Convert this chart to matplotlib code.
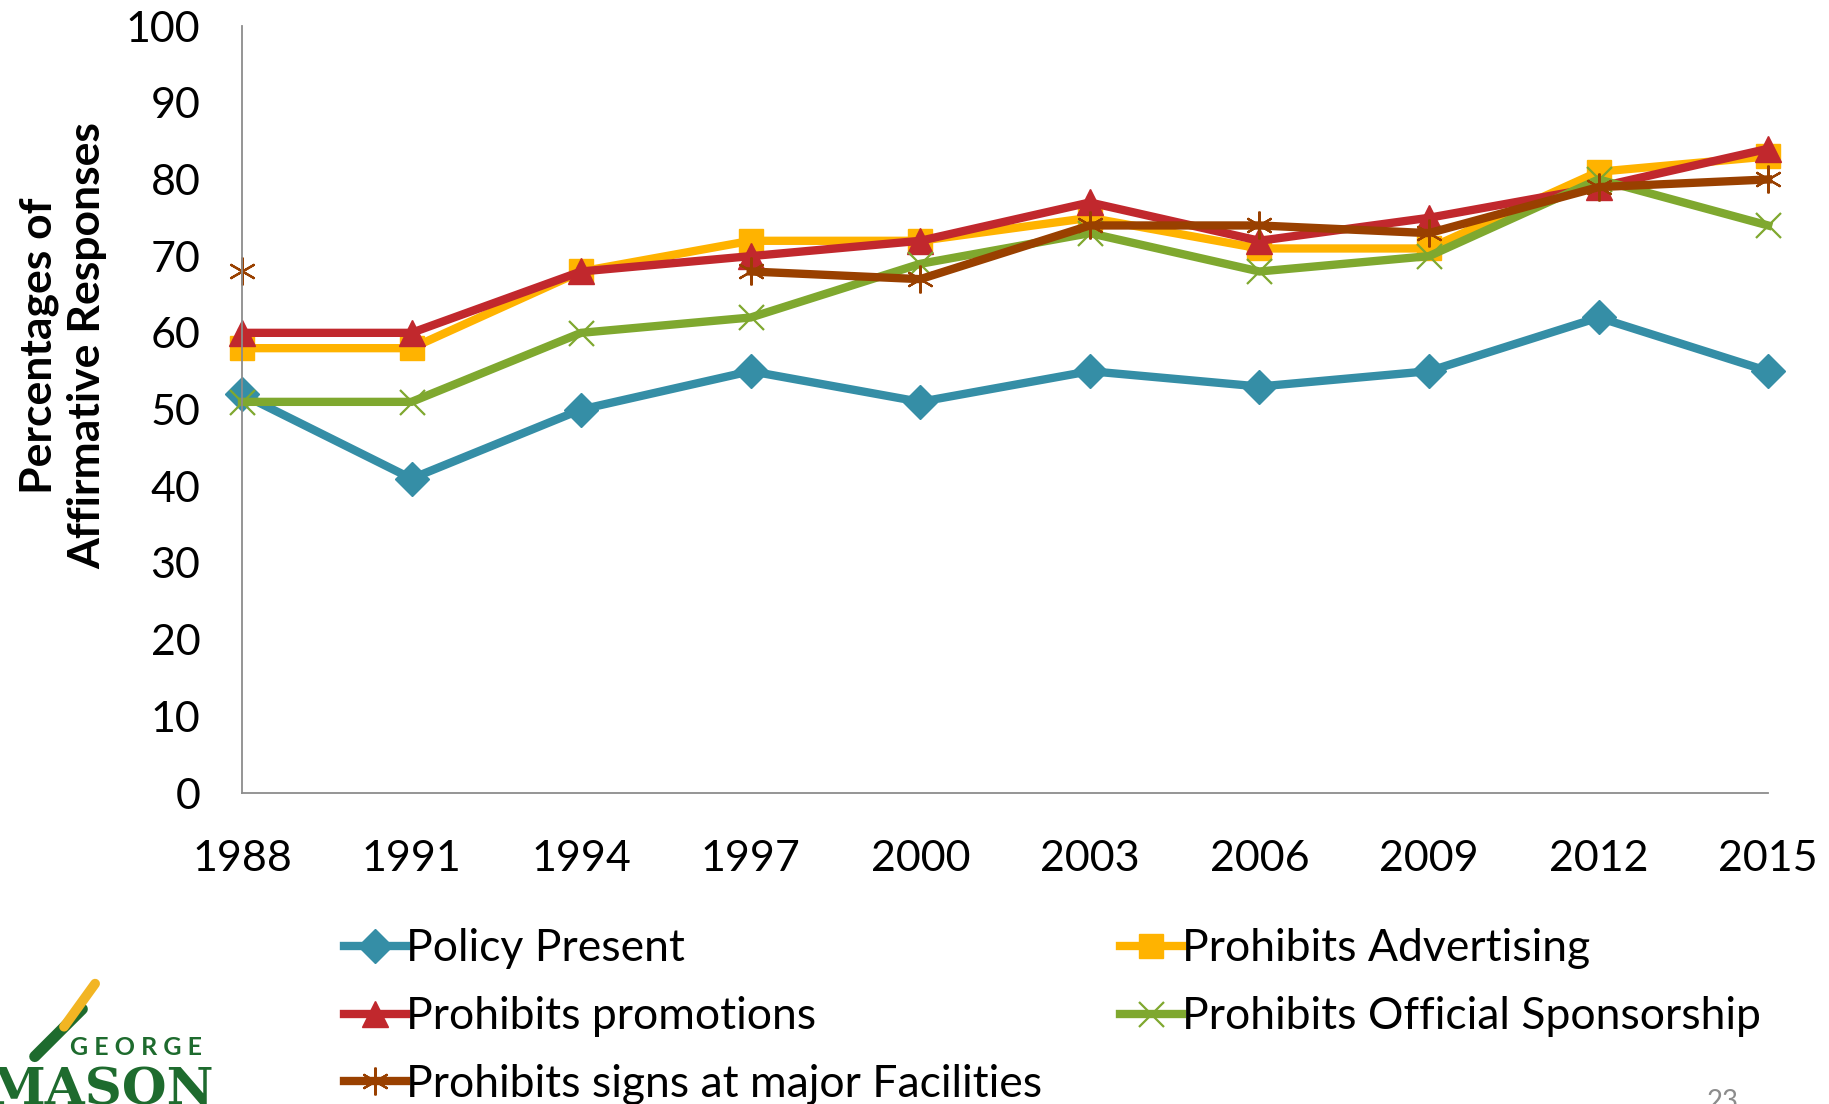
import numpy as np
import matplotlib.pyplot as plt
from matplotlib.lines import Line2D

plt.rcParams['font.family'] = ['Lato', 'DejaVu Sans']

# Data
years = [1988, 1991, 1994, 1997, 2000, 2003, 2006, 2009, 2012, 2015]
policy_present = [52, 41, 50, 55, 51, 55, 53, 55, 62, 55]
prohibits_advertising = [58, 58, 68, 72, 72, 75, 71, 71, 81, 83]
prohibits_promotions = [60, 60, 68, 70, 72, 77, 72, 75, 79, 84]
prohibits_sponsorship = [51, 51, 60, 62, 69, 73, 68, 70, 80, 74]
prohibits_signs = [68, np.nan, np.nan, 68, 67, 74, 74, 73, 79, 80]

series = [
    ('Policy Present', policy_present, '#358EA6', 'D', 17),
    ('Prohibits Advertising', prohibits_advertising, '#FFB300', 's', 17),
    ('Prohibits promotions', prohibits_promotions, '#C1282D', '^', 19),
    ('Prohibits Official Sponsorship', prohibits_sponsorship, '#7FA82F', 'x', 18),
    ('Prohibits signs at major Facilities', prohibits_signs, '#994000', (6, 2, 0), 20),
]

fig = plt.figure(figsize=(18.29, 11.04), dpi=100)
ax = fig.add_axes([0.1323, 0.2817, 0.8344, 0.6947])

handles = {}
for name, vals, color, marker, ms in series:
    mew = 1.6 if marker in ('x', (6, 2, 0)) else 1
    h, = ax.plot(years, vals, color=color, lw=6, marker=marker, ms=ms,
                 mec=color, mew=mew, clip_on=False, solid_joinstyle='miter')
    handles[name] = h

ax.set_xlim(1988, 2015)
ax.set_ylim(0, 100)
ax.set_xticks(years)
ax.set_yticks(range(0, 101, 10))
ax.tick_params(length=0, labelsize=31)
ax.tick_params(axis='x', pad=34)
ax.tick_params(axis='y', pad=30)
for s in ['top', 'right']:
    ax.spines[s].set_visible(False)
for s in ['left', 'bottom']:
    ax.spines[s].set_color('#8C8C8C')
    ax.spines[s].set_linewidth(1.3)

ax.set_ylabel('Percentages of\nAffirmative Responses', fontsize=32,
              fontweight='bold', linespacing=1.25)
ax.yaxis.set_label_coords(-0.0885, 0.583)

order = ['Policy Present', 'Prohibits promotions',
         'Prohibits signs at major Facilities',
         'Prohibits Advertising', 'Prohibits Official Sponsorship']
fig.legend([handles[n] for n in order], order, loc='upper left',
           bbox_to_anchor=(0.188, 0.159), ncol=2, frameon=False,
           fontsize=32, numpoints=1, handlelength=1.4, handletextpad=0.0,
           columnspacing=1.75, labelspacing=0.6, borderpad=0, borderaxespad=0)

# George Mason logo (rough approximation)
fig.lines.append(Line2D([0.019, 0.045], [0.043, 0.086], transform=fig.transFigure,
                        color='#1E6B2E', lw=8, solid_capstyle='round'))
fig.lines.append(Line2D([0.035, 0.052], [0.070, 0.109], transform=fig.transFigure,
                        color='#F2B523', lw=7, solid_capstyle='round'))
fig.text(0.038, 0.051, 'G E O R G E', color='#1E6B2E', fontsize=18,
         fontweight='bold', ha='left', va='center')
fig.text(-0.006, 0.012, 'MASON', color='#1E6B2E', fontsize=37,
         family='DejaVu Serif', fontweight='bold', ha='left', va='center')
fig.text(0.933, -0.010, '23', color='#8C8C8C', fontsize=20, ha='left', va='bottom')

fig.savefig('out.png', dpi=100)
